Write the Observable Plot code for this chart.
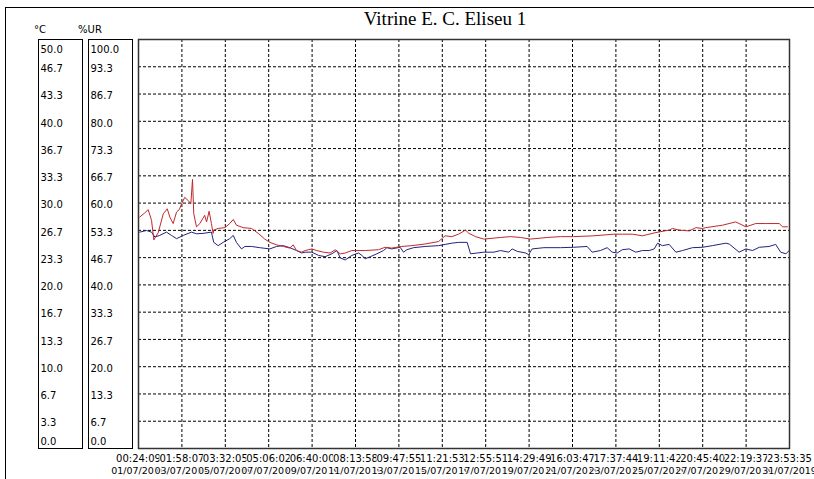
<!DOCTYPE html>
<html><head><meta charset="utf-8">
<script src="https://cdn.jsdelivr.net/npm/d3@7"></script>
<script src="https://cdn.jsdelivr.net/npm/@observablehq/plot@0.6"></script>
<style>body{margin:0;background:#fff;overflow:hidden}</style>
</head><body><div id="chart"></div>
<script>
const title = "Vitrine E. C. Eliseu 1";
const spanDays = 30.978; // 01/07/2019 00:24:09 -> 31/07/2019 23:53:35
const timeLabels = ["00:24:09","01:58:07","03:32:05","05:06:02","06:40:00","08:13:58","09:47:55","11:21:53","12:55:51","14:29:49","16:03:47","17:37:44","19:11:42","20:45:40","22:19:37","23:53:35"];
const dateLabels = ["01/07/2019","03/07/2019","05/07/2019","07/07/2019","09/07/2019","11/07/2019","13/07/2019","15/07/2019","17/07/2019","19/07/2019","21/07/2019","23/07/2019","25/07/2019","27/07/2019","29/07/2019","31/07/2019"];
const tempLabels = ["0.0","3.3","6.7","10.0","13.3","16.7","20.0","23.3","26.7","30.0","33.3","36.7","40.0","43.3","46.7","50.0"];
const rhLabels = ["0.0","6.7","13.3","20.0","26.7","33.3","40.0","46.7","53.3","60.0","66.7","73.3","80.0","86.7","93.3","100.0"];

// Temperature (°C), red — days since start
const tempDays = [0.06,0.30,0.46,0.62,0.73,0.94,1.18,1.37,1.49,1.65,1.81,1.94,2.05,2.20,2.37,2.49,2.57,2.63,2.76,2.92,3.15,3.24,3.36,3.47,3.55,3.58,3.79,4.11,4.34,4.51,4.66,4.98,5.38,5.70,6.01,6.25,6.57,6.89,7.20,7.36,7.52,7.76,7.93,8.25,8.48,8.80,9.12,9.36,9.60,9.84,10.15,10.79,11.42,11.74,12.05,12.53,13.01,13.64,14.28,14.59,14.91,15.23,15.56,15.72,16.04,16.43,17.23,17.70,18.18,18.65,19.45,20.08,20.71,21.67,22.62,23.03,23.51,23.98,24.62,25.25,25.41,25.73,26.21,26.52,26.84,27.00,27.79,28.42,28.90,29.37,29.85,30.49,30.65,30.88];
const tempValues = [28.3,28.8,29.2,27.9,25.5,26.4,28.7,29.3,28.3,27.5,28.9,29.2,29.9,30.7,30.3,29.9,32.9,28.7,27.1,27.5,28.5,27.7,29.0,27.5,26.3,26.7,26.9,27.0,27.5,28.0,27.3,27.0,26.9,26.3,25.6,25.2,24.9,24.7,24.5,24.9,24.2,24.0,24.2,24.4,24.2,24.0,23.9,24.3,23.8,23.9,24.2,24.2,24.3,24.6,24.5,24.7,24.8,25.0,25.3,26.0,25.9,26.2,26.7,26.3,25.9,25.6,25.8,25.9,25.8,25.6,25.8,25.9,25.9,26.0,26.2,26.2,26.2,26.0,26.4,26.7,26.9,26.7,26.6,27.0,26.9,27.0,27.3,27.7,27.1,27.5,27.5,27.5,27.1,27.1];

// Relative humidity (%UR), blue
const rhDays = [0.06,0.38,0.62,0.78,1.01,1.33,1.57,1.81,2.13,2.52,2.76,3.08,3.47,3.58,3.79,4.03,4.34,4.51,4.66,4.90,5.06,5.38,5.77,6.25,6.57,6.89,7.20,7.52,7.76,7.93,8.25,8.57,8.88,9.20,9.44,9.60,9.84,10.15,10.47,10.63,10.79,11.03,11.34,11.66,11.82,12.05,12.45,12.61,12.77,13.09,13.64,14.28,14.59,14.91,15.23,15.64,15.80,16.12,16.43,16.91,17.23,17.62,17.78,18.02,18.42,18.57,18.73,19.29,20.08,20.71,21.35,21.59,21.98,22.30,22.54,22.78,23.02,23.35,23.66,23.98,24.30,24.54,24.70,24.93,25.25,25.57,25.89,26.36,26.84,27.31,27.95,28.11,28.58,28.90,29.22,29.54,30.01,30.32,30.56,30.81,30.96];
const rhValues = [52.9,53.3,52.9,51.7,52.1,52.9,52.1,51.3,52.1,52.9,52.5,52.6,52.9,50.4,49.6,50.4,51.3,52.1,50.4,48.8,49.4,49.4,49.1,48.8,49.4,49.6,49.1,48.4,47.8,48.0,48.0,47.2,46.9,47.6,48.4,46.6,46.1,47.2,47.8,47.2,46.4,46.9,47.6,48.4,49.1,48.8,49.2,48.0,48.6,49.1,49.4,49.6,49.9,50.2,50.4,50.4,47.6,47.8,48.0,48.0,48.4,48.0,48.8,48.2,47.8,47.4,48.8,49.1,49.1,49.2,49.4,48.0,48.4,49.1,48.0,47.8,48.6,48.8,48.0,48.4,48.4,48.8,50.2,49.6,49.9,48.0,48.4,49.1,49.2,49.6,50.2,50.0,48.0,48.8,48.4,49.2,49.4,49.9,48.0,47.6,48.4];

const W = 814, H = 479;
const tickDays = timeLabels.map((_, i) => i * spanDays / 15);
const yTicks = tempLabels.map((_, i) => i * 50 / 15);
const temp = tempDays.map((d, i) => ({day: d, v: tempValues[i]}));
const rh = rhDays.map((d, i) => ({day: d, v: rhValues[i] / 2}));
const mid = (d, i) => i > 0 && i < 15;
const halo = {fill: "#000", stroke: "#fff", strokeWidth: 2, paintOrder: "stroke"};

const svg = Plot.plot({
  width: W, height: H,
  marginLeft: 138, marginRight: 25, marginTop: 39, marginBottom: 31,
  x: {domain: [0, spanDays], axis: null},
  y: {domain: [0, 50], axis: null},
  style: {fontFamily: "DejaVu Sans", fontSize: "10px", background: "#fff", color: "#000", overflow: "visible"},
  marks: [
    Plot.ruleX(tickDays.filter(mid), {stroke: "#000", strokeDasharray: "3,2", strokeWidth: 1}),
    Plot.ruleY(yTicks.filter(mid), {stroke: "#000", strokeDasharray: "3,2", strokeWidth: 1}),
    Plot.line(rh, {x: "day", y: "v", stroke: "#23237c", strokeWidth: 1}),
    Plot.line(temp, {x: "day", y: "v", stroke: "#c0282d", strokeWidth: 1}),
    Plot.frame({stroke: "#333", strokeWidth: 1.5}),
    Plot.text(dateLabels, {x: (d, i) => tickDays[i], frameAnchor: "bottom", dy: 25, text: d => d, fontSize: 9.5, ...halo}),
    Plot.text(timeLabels, {x: (d, i) => tickDays[i], frameAnchor: "bottom", dy: 13, text: d => d, ...halo}),
    Plot.text(tempLabels, {filter: mid, y: (d, i) => yTicks[i], frameAnchor: "left", dx: -98, dy: 2, textAnchor: "start", text: d => d, fill: "#000"}),
    Plot.text(rhLabels, {filter: mid, y: (d, i) => yTicks[i], frameAnchor: "left", dx: -48, dy: 2, textAnchor: "start", text: d => d, fill: "#000"}),
    Plot.text(tempLabels, {filter: (d, i) => i === 15, y: (d, i) => yTicks[i], frameAnchor: "left", dx: -98, dy: 10, textAnchor: "start", text: d => d, fill: "#000"}),
    Plot.text(rhLabels, {filter: (d, i) => i === 15, y: (d, i) => yTicks[i], frameAnchor: "left", dx: -48, dy: 10, textAnchor: "start", text: d => d, fill: "#000"}),
    Plot.text(tempLabels, {filter: (d, i) => i === 0, y: (d, i) => yTicks[i], frameAnchor: "left", dx: -98, dy: -7, textAnchor: "start", text: d => d, fill: "#000"}),
    Plot.text(rhLabels, {filter: (d, i) => i === 0, y: (d, i) => yTicks[i], frameAnchor: "left", dx: -48, dy: -7, textAnchor: "start", text: d => d, fill: "#000"})
  ]
});

const s = d3.select(svg);
// outer border lines
s.append("line").attr("x1", 5).attr("x2", W).attr("y1", 7.5).attr("y2", 7.5).attr("stroke", "#000");
s.append("line").attr("x1", 5.5).attr("x2", 5.5).attr("y1", 7).attr("y2", H).attr("stroke", "#000");
// axis label boxes
s.append("rect").attr("x", 38.5).attr("y", 39.5).attr("width", 44).attr("height", 409).attr("fill", "none").attr("stroke", "#000");
s.append("rect").attr("x", 88.5).attr("y", 39.5).attr("width", 44).attr("height", 409).attr("fill", "none").attr("stroke", "#000");
// headers
s.append("text").attr("x", 40).attr("y", 30).attr("dy", "0.32em").attr("font-family", "DejaVu Sans").attr("font-size", 10).attr("fill", "#000").text("°C");
s.append("text").attr("x", 90).attr("y", 30).attr("dy", "0.32em").attr("font-family", "DejaVu Sans").attr("font-size", 10).attr("fill", "#000").text("%UR");
// title
s.append("text").attr("x", 445).attr("y", 25).attr("text-anchor", "middle").attr("font-family", "Liberation Serif").attr("font-size", 19).attr("fill", "#000").text(title);

document.getElementById("chart").append(svg);
</script>
</body></html>
